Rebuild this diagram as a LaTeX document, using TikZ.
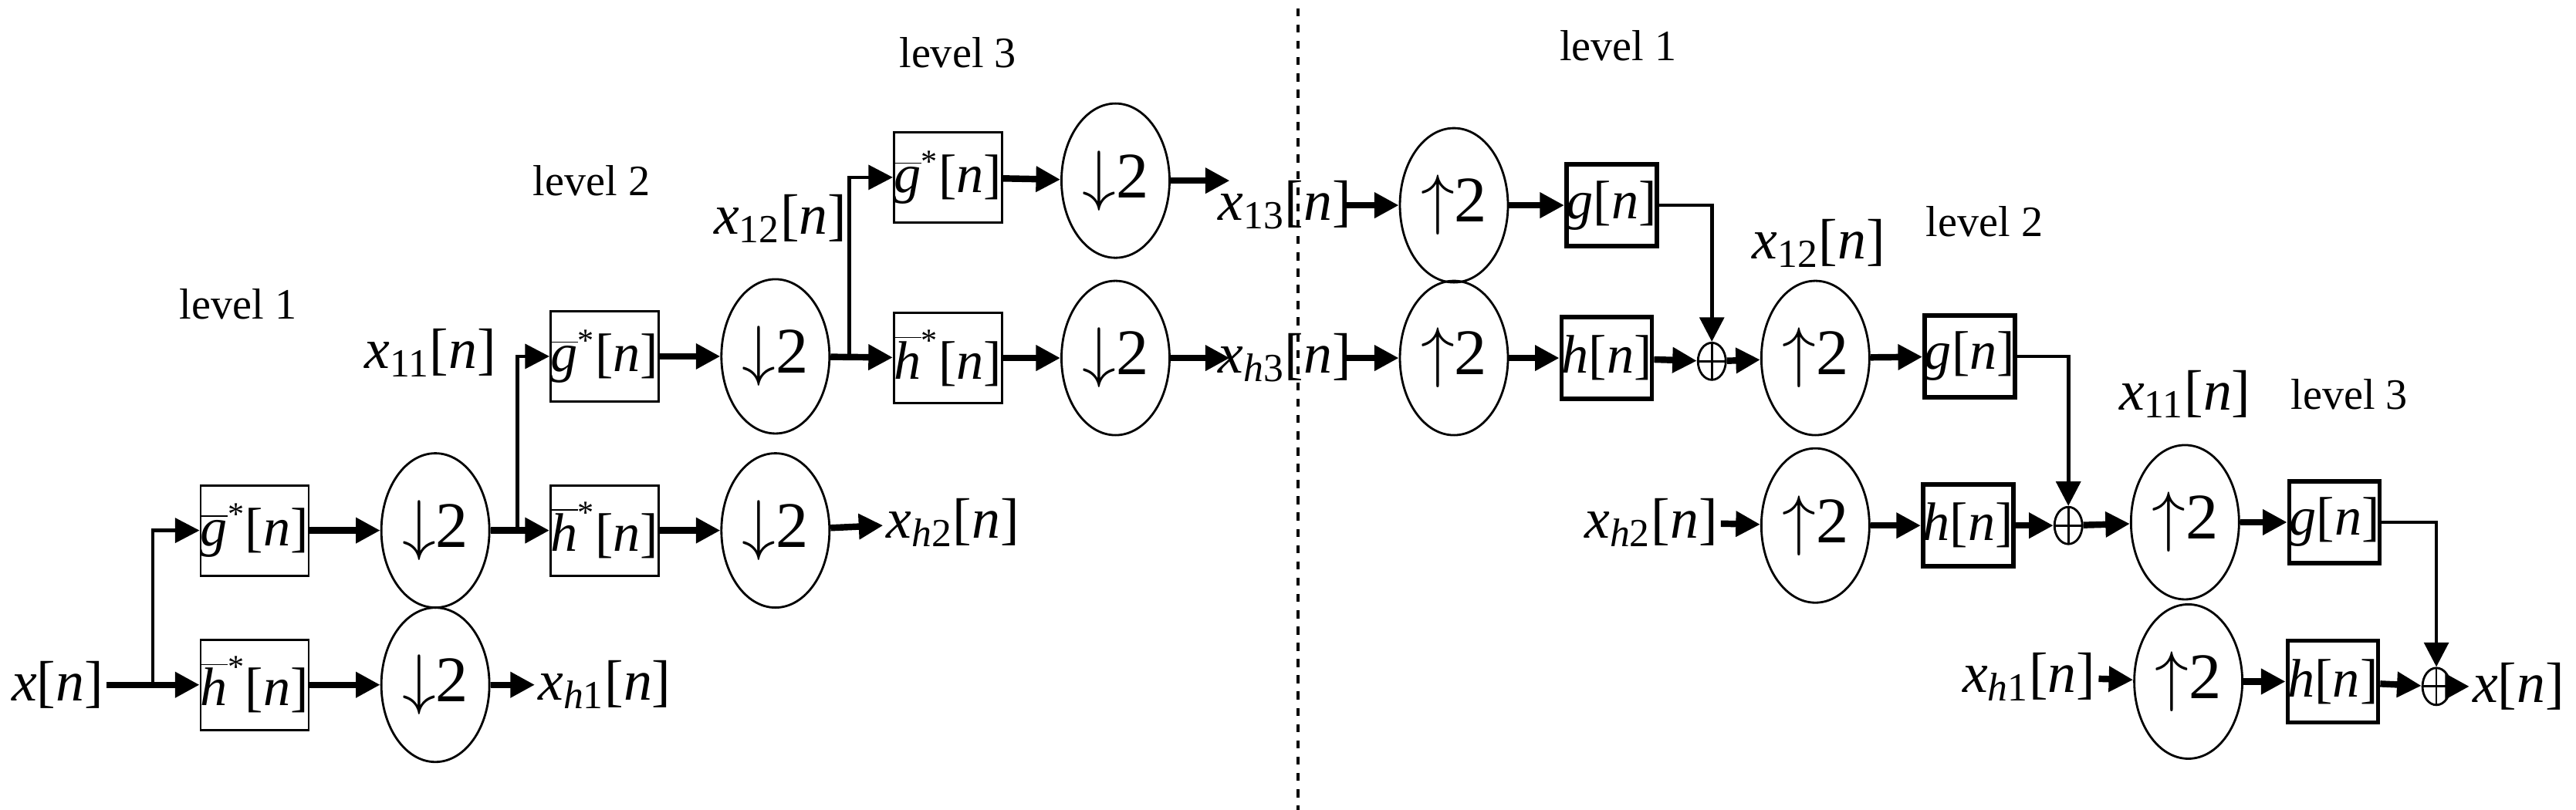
\documentclass[tikz,border=0pt]{standalone}
\usepackage{fontspec}
\setmainfont{Liberation Serif}
\usetikzlibrary{shapes.geometric,arrows.meta}
\newcommand\vi[1]{\textit{#1}}
\newcommand\gb{$\overline{\mbox{\vi{g}}}^{\mbox{\fontsize{12}{12}\selectfont *}}$[\vi{n}]}
\newcommand\hb{$\overline{\mbox{\vi{h}}}^{\mbox{\fontsize{12}{12}\selectfont *}}$[\vi{n}]}
\begin{document}
\begin{tikzpicture}[x=0.02129cm,y=-0.02129cm,
  lab/.style={font=\fontsize{21}{24}\selectfont, inner sep=1pt},
  lev/.style={font=\fontsize{16}{19}\selectfont},
  fb/.style={draw, line width=0.8pt, minimum width=13.8mm, minimum height=11.7mm, inner sep=0pt, font=\fontsize{20}{22}\selectfont},
  sb/.style={draw, line width=1.6pt, minimum width=10mm, minimum height=10.6mm, inner sep=0pt, font=\fontsize{20}{22}\selectfont},
  cc/.style={draw, ellipse, line width=0.8pt, minimum width=14mm, minimum height=20mm, inner sep=0pt, font=\fontsize{24}{26}\selectfont},
  op/.style={draw, ellipse, line width=0.8pt, minimum width=3.6mm, minimum height=4.8mm, inner sep=0pt,
    path picture={\draw[line width=0.8pt] (path picture bounding box.north) -- (path picture bounding box.south)
      (path picture bounding box.west) -- (path picture bounding box.east);}},
  ar/.style={line width=2.4pt, -{Triangle[length=9pt,width=9pt]}},
  br/.style={line width=1.3pt, -{Triangle[length=9pt,width=9pt]}},
  ln/.style={line width=1.3pt}]
\useasboundingbox (0,0) rectangle (1568,493);
\draw[dashed, line width=1.2pt] (790,5) -- (790,493);
% level labels
\node[lev] (l1) at (145,185) {level 1};
\node[lev] (l2) at (360,110) {level 2};
\node[lev] (l3) at (583,32) {level 3};
\node[lev] (r1) at (985,28) {level 1};
\node[lev] (r2) at (1208,135) {level 2};
\node[lev] (r3) at (1430,240) {level 3};
% analysis
\node[lab] (x) at (35,417) {\vi{x}[\vi{n}]};
\node[fb] (g1) at (155,323) {\gb};
\node[fb] (h1) at (155,417) {\hb};
\node[cc] (d1) at (265,323) {$\downarrow$2};
\node[cc] (d2) at (265,417) {$\downarrow$2};
\node[lab] (xh1) at (368,417) {\vi{x}\textsubscript{\vi{h}1}[\vi{n}]};
\coordinate (j1) at (93,417);
\draw[ar] (x) -- (h1);
\draw[br] (j1) |- (g1);
\draw[ar] (g1) -- (d1);
\draw[ar] (h1) -- (d2);
\draw[ar] (d2) -- (xh1);
\node[lab] (x11) at (262,215) {\vi{x}\textsubscript{11}[\vi{n}]};
\node[fb] (g2) at (368,217) {\gb};
\node[fb] (h2) at (368,323) {\hb};
\node[cc] (d3) at (472,217) {$\downarrow$2};
\node[cc] (d4) at (472,323) {$\downarrow$2};
\node[lab] (xh2) at (580,318) {\vi{x}\textsubscript{\vi{h}2}[\vi{n}]};
\coordinate (j2) at (315,323);
\draw[ar] (d1) -- (h2);
\draw[br] (j2) |- (g2);
\draw[ar] (g2) -- (d3);
\draw[ar] (h2) -- (d4);
\draw[ar] (d4) -- (xh2);
\node[lab] (x12) at (475,133) {\vi{x}\textsubscript{12}[\vi{n}]};
\node[fb] (g3) at (577,108) {\gb};
\node[fb] (h3) at (577,218) {\hb};
\node[cc] (d5) at (679,110) {$\downarrow$2};
\node[cc] (d6) at (679,218) {$\downarrow$2};
\node[lab] (x13) at (782,125) {\vi{x}\textsubscript{13}[\vi{n}]};
\node[lab] (xh3) at (782,218) {\vi{x}\textsubscript{\vi{h}3}[\vi{n}]};
\coordinate (j3) at (517,218);
\draw[ar] (d3) -- (h3);
\draw[br] (j3) |- (g3);
\draw[ar] (g3) -- (d5);
\draw[ar] (h3) -- (d6);
\draw[ar] (d5.east) -- ++(36,0);
\draw[ar] (d6.east) -- ++(36,0);
% synthesis
\coordinate (s1) at (818,125);
\coordinate (s2) at (818,218);
\node[cc] (u1) at (885,125) {$\uparrow$2};
\node[cc] (u2) at (885,218) {$\uparrow$2};
\node[sb] (rg1) at (981,125) {\vi{g}[\vi{n}]};
\node[sb] (rh1) at (978,218) {\vi{h}[\vi{n}]};
\node[op] (o1) at (1042,220) {};
\draw[ar] (s1) -- (u1);
\draw[ar] (s2) -- (u2);
\draw[ar] (u1) -- (rg1);
\draw[ar] (u2) -- (rh1);
\draw[br] (rg1.east) -| (o1.north);
\draw[ar] (rh1) -- (o1);
\node[lab] (rx12) at (1107,148) {\vi{x}\textsubscript{12}[\vi{n}]};
\node[cc] (u3) at (1105,218) {$\uparrow$2};
\node[sb] (rg2) at (1199,217) {\vi{g}[\vi{n}]};
\draw[ar] (o1) -- (u3);
\draw[ar] (u3) -- (rg2);
\node[lab] (rxh2) at (1005,318) {\vi{x}\textsubscript{\vi{h}2}[\vi{n}]};
\node[cc] (u4) at (1105,320) {$\uparrow$2};
\node[sb] (rh2) at (1198,320) {\vi{h}[\vi{n}]};
\node[op] (o2) at (1259,320) {};
\draw[ar] (rxh2) -- (u4);
\draw[ar] (u4) -- (rh2);
\draw[ar] (rh2) -- (o2);
\draw[br] (rg2.east) -| (o2.north);
\node[lab] (rx11) at (1330,240) {\vi{x}\textsubscript{11}[\vi{n}]};
\node[cc] (u5) at (1330,318) {$\uparrow$2};
\node[sb] (rg3) at (1421,318) {\vi{g}[\vi{n}]};
\draw[ar] (o2) -- (u5);
\draw[ar] (u5) -- (rg3);
\node[lab] (rxh1) at (1235,412) {\vi{x}\textsubscript{\vi{h}1}[\vi{n}]};
\node[cc] (u6) at (1332,415) {$\uparrow$2};
\node[sb] (rh3) at (1420,415) {\vi{h}[\vi{n}]};
\node[op] (o3) at (1483,418) {};
\node[lab] (xo) at (1533,418) {\vi{x}[\vi{n}]};
\draw[ar] (rxh1) -- (u6);
\draw[ar] (u6) -- (rh3);
\draw[ar] (rh3) -- (o3);
\draw[br] (rg3.east) -| (o3.north);
\draw[ar] (o3) -- (xo);
\end{tikzpicture}
\end{document}
